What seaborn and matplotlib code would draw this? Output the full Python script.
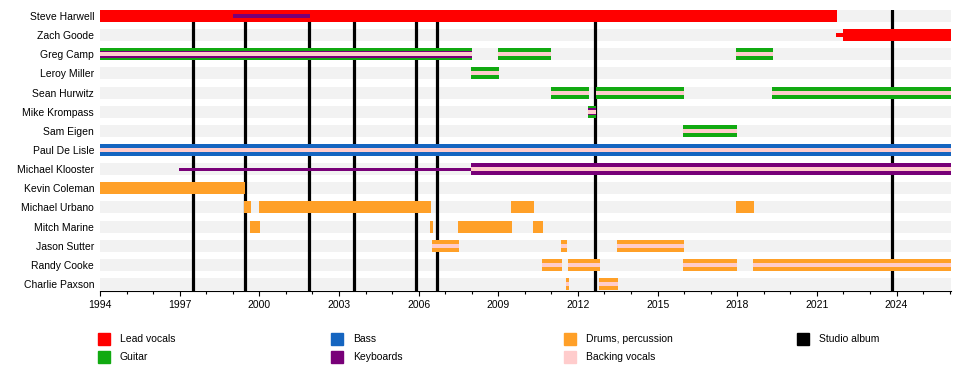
import matplotlib
matplotlib.use('Agg')
import matplotlib.pyplot as plt
from matplotlib.patches import Rectangle
import seaborn as sns

NOW = 2026.04

members = ['Steve Harwell', 'Zach Goode', 'Greg Camp', 'Leroy Miller', 'Sean Hurwitz',
           'Mike Krompass', 'Sam Eigen', 'Paul De Lisle', 'Michael Klooster', 'Kevin Coleman',
           'Michael Urbano', 'Mitch Marine', 'Jason Sutter', 'Randy Cooke', 'Charlie Paxson']

# periods as (member, start, end)
lead_vocals = [('Steve Harwell', 1994.0, 2021.75), ('Zach Goode', 2022.0, NOW)]
guitar = [('Greg Camp', 1994.0, 2008.0), ('Greg Camp', 2009.0, 2011.0), ('Greg Camp', 2017.95, 2019.33),
          ('Leroy Miller', 2007.97, 2009.03),
          ('Sean Hurwitz', 2011.0, 2012.4), ('Sean Hurwitz', 2012.67, 2016.0), ('Sean Hurwitz', 2019.31, NOW),
          ('Mike Krompass', 2012.37, 2012.67), ('Sam Eigen', 2015.96, 2017.98)]
bass = [('Paul De Lisle', 1994.0, NOW)]
keyboards = [('Michael Klooster', 2007.97, NOW)]
drums = [('Kevin Coleman', 1994.0, 1999.46),
         ('Michael Urbano', 1999.42, 1999.67), ('Michael Urbano', 1999.99, 2006.45),
         ('Michael Urbano', 2009.48, 2010.35), ('Michael Urbano', 2017.95, 2018.63),
         ('Mitch Marine', 1999.65, 2000.03), ('Mitch Marine', 2006.43, 2006.54),
         ('Mitch Marine', 2007.47, 2009.5), ('Mitch Marine', 2010.29, 2010.69),
         ('Jason Sutter', 2006.5, 2007.52), ('Jason Sutter', 2011.36, 2011.59), ('Jason Sutter', 2013.47, 2016.0),
         ('Randy Cooke', 2010.65, 2011.4), ('Randy Cooke', 2011.63, 2012.83),
         ('Randy Cooke', 2015.96, 2017.99), ('Randy Cooke', 2018.6, NOW),
         ('Charlie Paxson', 2011.55, 2011.66), ('Charlie Paxson', 2012.8, 2013.5)]
# second instrument, drawn narrower
keyboards_mid = [('Greg Camp', 1994.0, 2008.0), ('Mike Krompass', 2012.37, 2012.67)]
# thin bars
lead_vocals_thin = [('Zach Goode', 2021.72, 2022.0)]
keyboards_thin = [('Steve Harwell', 1999.0, 2001.9), ('Michael Klooster', 1996.98, 2007.97)]
backing_vocals = [('Greg Camp', 1994.0, 2008.0), ('Greg Camp', 2009.0, 2011.0), ('Greg Camp', 2017.95, 2019.33),
                  ('Leroy Miller', 2007.97, 2009.03),
                  ('Sean Hurwitz', 2011.0, 2012.4), ('Sean Hurwitz', 2012.67, 2016.0), ('Sean Hurwitz', 2019.31, NOW),
                  ('Mike Krompass', 2012.37, 2012.67), ('Sam Eigen', 2015.96, 2017.98),
                  ('Paul De Lisle', 1994.0, NOW), ('Michael Klooster', 2007.97, NOW),
                  ('Jason Sutter', 2006.5, 2007.52), ('Jason Sutter', 2011.36, 2011.59), ('Jason Sutter', 2013.47, 2016.0),
                  ('Randy Cooke', 2010.65, 2011.4), ('Randy Cooke', 2011.63, 2012.83),
                  ('Randy Cooke', 2015.96, 2017.99), ('Randy Cooke', 2018.6, NOW),
                  ('Charlie Paxson', 2011.55, 2011.66), ('Charlie Paxson', 2012.8, 2013.5)]
albums = [1997.5, 1999.46, 2001.87, 2003.57, 2005.9, 2006.69, 2012.64, 2023.83]
year_ticks = list(range(1994, 2025, 3))
minor_years = list(range(1994, 2027))

colors = {'Lead vocals': '#ff0000', 'Guitar': '#11aa11', 'Bass': '#1565c0',
          'Keyboards': '#780078', 'Drums, percussion': '#ffa028',
          'Backing vocals': '#ffcccc', 'Studio album': '#000000'}

sns.set_theme(style='white')
plt.rcParams['font.family'] = ['Liberation Sans', 'DejaVu Sans']

fig = plt.figure(figsize=(9.6, 3.7), dpi=100)
ax = fig.add_axes([100 / 960, 1 - 290.7 / 370, 850.7 / 960, 280.7 / 370])


def draw(periods, color, height, z):
    ys = [members.index(m) for m, s, e in periods]
    widths = [e - s for m, s, e in periods]
    lefts = [s for m, s, e in periods]
    ax.barh(ys, widths, left=lefts, height=height, color=color, linewidth=0, zorder=z)


# background stripes
ax.barh(range(len(members)), NOW - 1994, left=1994, height=0.63, color='#f2f2f2', linewidth=0, zorder=0)
for a in albums:
    ax.axvline(a, color='black', lw=2.3, zorder=1)

draw(lead_vocals, colors['Lead vocals'], 0.63, 2)
draw(guitar, colors['Guitar'], 0.63, 2)
draw(bass, colors['Bass'], 0.63, 2)
draw(keyboards, colors['Keyboards'], 0.63, 2)
draw(drums, colors['Drums, percussion'], 0.63, 2)
draw(keyboards_mid, colors['Keyboards'], 0.38, 3)
draw(lead_vocals_thin, colors['Lead vocals'], 0.18, 3)
draw(keyboards_thin, colors['Keyboards'], 0.17, 3)
draw(backing_vocals, colors['Backing vocals'], 0.21, 4)

ax.set_xlim(1994, NOW)
ax.set_ylim(14.35, -0.313)
ax.set_yticks(range(len(members)))
ax.set_yticklabels(members, fontsize=7.5)
ax.set_xticks(year_ticks)
ax.set_xticklabels([str(y) for y in year_ticks], fontsize=7.5)
ax.set_xticks(minor_years, minor=True)
ax.tick_params(axis='y', length=0, pad=4.3, colors='black')
ax.tick_params(axis='x', which='major', direction='out', length=3.6, width=0.8, pad=3, colors='black', bottom=True)
ax.tick_params(axis='x', which='minor', direction='out', length=2, width=0.8, colors='black', bottom=True)
for side in ['top', 'right', 'left']:
    ax.spines[side].set_visible(False)
ax.spines['bottom'].set_color('black')
ax.spines['bottom'].set_linewidth(0.8)
ax.grid(False)

# legend
legend_items = ['Lead vocals', 'Guitar', 'Bass', 'Keyboards', 'Drums, percussion', 'Backing vocals', 'Studio album']
for i, name in enumerate(legend_items):
    col, row = i // 2, i % 2
    x = 98 + col * 233
    yc = 339 + row * 18
    fig.patches.append(Rectangle((x / 960, 1 - (yc + 6) / 370), 12 / 960, 12 / 370,
                                 transform=fig.transFigure, color=colors[name], figure=fig))
    fig.text((x + 22) / 960, 1 - yc / 370, name, fontsize=7.5, va='center', ha='left', color='black')

fig.savefig('out.png', dpi=100)
